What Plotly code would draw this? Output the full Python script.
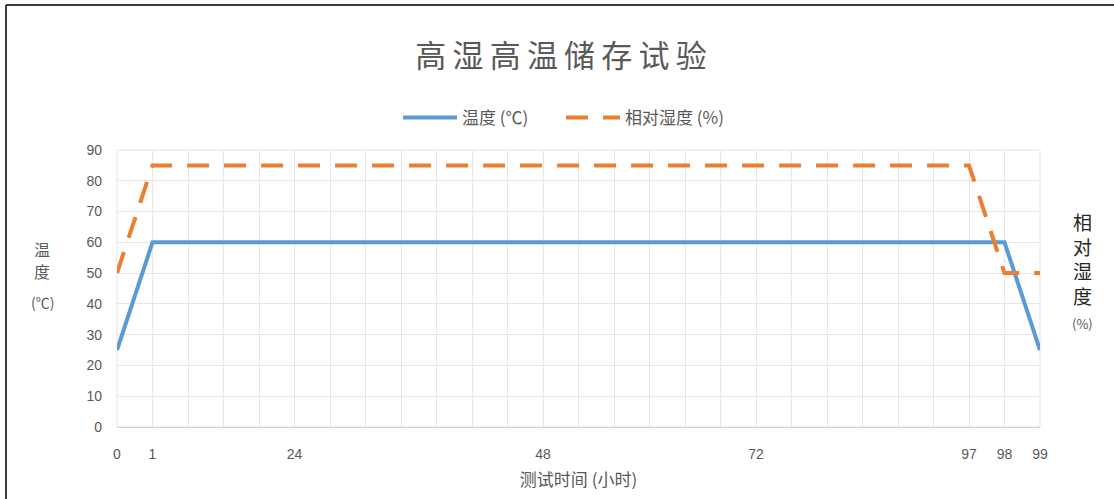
import plotly.graph_objects as go

# Category labels of the x axis (blank = unlabeled category)
hour_labels = ["0", "1", "", "", "", "24", "", "", "", "", "", "", "48",
               "", "", "", "", "", "72", "", "", "", "", "", "97", "98", "99"]
temperature = [25] + [60] * 25 + [25]
humidity = [50] + [85] * 24 + [50, 50]
y_ticks = [0, 10, 20, 30, 40, 50, 60, 70, 80, 90]

x_idx = list(range(len(hour_labels)))

W, H = 1114, 499
L, R, T, B = 117, 74, 150, 72
pw, ph = W - L - R, H - T - B

def px(x):
    return (x - L) / pw

def py(y):
    return (H - B - y) / ph

gray = "#595959"
cjk = "Noto Sans CJK SC, Liberation Sans, sans-serif"

fig = go.Figure()
fig.add_trace(go.Scatter(x=x_idx, y=temperature, mode="lines", name="温度 (℃)",
                         line=dict(color="#5B9BD5", width=4)))
fig.add_trace(go.Scatter(x=x_idx, y=humidity, mode="lines", name="相对湿度 (%)",
                         line=dict(color="#ED7D31", width=4, dash="22px,15px")))

title_text = "\u2009".join("高湿高温储存试验")

fig.update_layout(
    width=W, height=H,
    margin=dict(l=L, r=R, t=T, b=B, autoexpand=False),
    paper_bgcolor="white", plot_bgcolor="white",
    title=dict(text=title_text, x=px(561), xref="paper", xanchor="center",
               y=1 - 56 / H, yanchor="middle",
               font=dict(family=cjk, size=31, color=gray)),
    legend=dict(orientation="h", x=px(398), xanchor="left", xref="paper",
                y=py(118), yanchor="middle", itemwidth=54, entrywidth=94,
                font=dict(family=cjk, size=17, color=gray),
                bgcolor="rgba(0,0,0,0)"),
    showlegend=True,
    xaxis=dict(range=[0, len(hour_labels) - 1], tickmode="array",
               tickvals=x_idx, ticktext=hour_labels,
               showgrid=True, gridcolor="#e7e7e7", gridwidth=1,
               showline=True, linecolor="#d4d4d4", linewidth=1, mirror=False,
               zeroline=False, ticks="", ticklabelstandoff=14,
               tickfont=dict(family="Liberation Sans, sans-serif", size=14, color=gray),
               title=dict(text="测试时间 (小时)", standoff=13,
                          font=dict(family=cjk, size=17, color=gray))),
    yaxis=dict(range=[0, 90], tickmode="array", tickvals=y_ticks,
               showgrid=True, gridcolor="#e7e7e7", gridwidth=1,
               zeroline=False, showline=False, ticks="", ticklabelstandoff=14,
               tickfont=dict(family="Liberation Sans, sans-serif", size=14, color=gray)),
)

# plot-area light frame
fig.add_shape(type="rect", xref="paper", yref="paper", x0=0, x1=1, y0=0, y1=1,
              line=dict(color="#e2e2e2", width=1), layer="below")

# outer chart border (top and left)
fig.add_shape(type="line", xref="paper", yref="paper",
              x0=px(6), x1=px(W + 5), y0=py(5), y1=py(5),
              line=dict(color="#3a3a3a", width=2))
fig.add_shape(type="line", xref="paper", yref="paper",
              x0=px(6), x1=px(6), y0=py(5), y1=py(H + 5),
              line=dict(color="#3a3a3a", width=2))

# left axis title (stacked, compressed)
for txt, yy, sz in [("温", 249, 16), ("度", 271, 16), ("(℃)", 302, 14)]:
    fig.add_annotation(text=txt, xref="paper", yref="paper",
                       x=px(42), y=py(yy), xanchor="center", yanchor="middle",
                       showarrow=False,
                       font=dict(family=cjk, size=sz, color=gray))

# right axis title (stacked)
fig.add_annotation(text="相<br>对<br>湿<br>度<br><span style='font-size:13px;color:#595959'>(%)</span>",
                   xref="paper", yref="paper",
                   x=px(1082), y=py(270), xanchor="center", yanchor="middle",
                   showarrow=False,
                   font=dict(family=cjk, size=19, color="#262626"), align="center")

fig.write_html("out.html")
